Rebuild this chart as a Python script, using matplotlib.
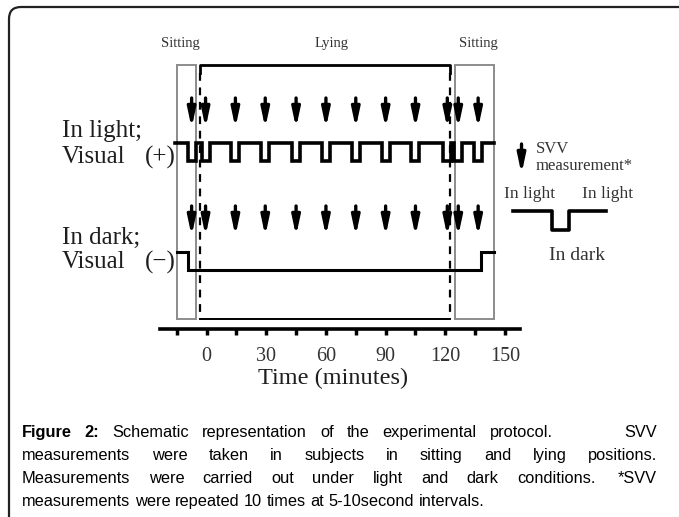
import matplotlib
matplotlib.use('Agg')
import matplotlib.pyplot as plt
from matplotlib.patches import Rectangle, FancyBboxPatch

# protocol timing, minutes
sit1 = (-15.1, -5.5)
lying = (-3.3, 122.6)
sit2 = (125.1, 144.5)
svv_times = [-7.5, -0.5, 14.5, 29.5, 45, 60, 75, 90, 105, 121, 126.5, 136.5]
dark_span = (-9.5, 138)
wave_span = (-16, 144.5)
ticks = list(range(-15, 151, 15))
tick_labels = ['' if (t < 0 or t % 30) else str(t) for t in ticks]

# caption lines; '|' marks the wide gap
caption = [
    "Figure 2: Schematic representation of the experimental protocol. | SVV",
    "measurements were taken in subjects in sitting and lying positions.",
    "Measurements were carried out under light and dark conditions. | *SVV",
    "measurements were repeated 10 times at 5-10second intervals.",
]
bold_words = {"Figure", "2:"}

W, H = 679, 517
serif = 'Liberation Serif'
ink = '#1e1e1e'

fig = plt.figure(figsize=(W / 100, H / 100), dpi=100)
ax = fig.add_axes([160 / W, 1 - 329 / H, 360 / W, 329 / H])
px = 1.9897  # pixels per minute
x0 = (160 - 206.55) / px
ax.set_xlim(x0, x0 + 360 / px)
ax.set_ylim(329, 0)
ax.patch.set_visible(False)
for s in ['top', 'left', 'right']:
    ax.spines[s].set_visible(False)
ax.spines['bottom'].set_linewidth(2.6)
ax.set_yticks([])
ax.set_xticks(ticks)
ax.set_xticklabels(tick_labels, fontfamily=serif, fontsize=14.5, color='#333')
ax.tick_params(axis='x', direction='out', length=4, width=2.5, pad=9)

# sitting boxes (grey) and lying bracket
for a, b in (sit1, sit2):
    ax.add_patch(Rectangle((a, 65), b - a, 254, fill=False,
                           ec='#8c8c8c', lw=1.4))
la, lb = lying
ax.plot([la, la, lb, lb], [73, 65, 65, 73], color='k', lw=2)
for xx in (la, lb):
    ax.plot([xx, xx], [73, 319], color='k', lw=1.6, ls=(0, (3.5, 3)))
ax.plot([la, lb], [319, 319], color='k', lw=1.4)


def step_wave(dips, hi, lo):
    xs, ys = [wave_span[0]], [hi]
    for a, b in dips:
        xs += [a, a, b, b]
        ys += [hi, lo, lo, hi]
    xs.append(wave_span[1])
    ys.append(hi)
    return xs, ys


# light condition: brief dark for each measurement
xs, ys = step_wave([(t - 2, t + 2) for t in svv_times], 143, 161)
ax.plot(xs, ys, color='k', lw=2.6, solid_joinstyle='miter')
# dark condition
xs, ys = step_wave([dark_span], 252, 270)
xs[0] = sit1[0]
ax.plot(xs, ys, color='k', lw=2.2, solid_joinstyle='miter')

arrow = dict(arrowstyle='-|>,head_length=0.8,head_width=0.17', lw=2.4,
             color='k', shrinkA=0, shrinkB=0, mutation_scale=14)
for t in svv_times:
    for top, tip in ((98, 128), (206, 236)):
        ax.annotate('', xy=(t, tip), xytext=(t, top), arrowprops=arrow)

# phase labels
for t, lab in ((-13.3, 'Sitting'), (62.9, 'Lying'), (136.4, 'Sitting')):
    ax.text(t, 43, lab, ha='center', va='center', fontfamily=serif,
            fontsize=10.5, color='#333')

# legend on the right
ax.annotate('', xy=(158.3, 174), xytext=(158.3, 144), arrowprops=arrow,
            annotation_clip=False)
ax.text(165.5, 149, 'SVV', fontfamily=serif, fontsize=12, color='#333',
        va='center', ha='left')
ax.text(165.5, 166, 'measurement*', fontfamily=serif, fontsize=12,
        color='#333', va='center', ha='left')
ax.plot([153.9, 173.5, 173.5, 182.4, 182.4, 200.7],
        [211, 211, 230, 230, 211, 211], color='k', lw=2.6, clip_on=False)
ax.text(162.3, 194, 'In light', fontfamily=serif, fontsize=12.5,
        color='#333', ha='center', va='center')
ax.text(201.4, 194, 'In light', fontfamily=serif, fontsize=12.5,
        color='#333', ha='center', va='center')
ax.text(186.4, 255, 'In dark', fontfamily=serif, fontsize=14,
        color='#333', ha='center', va='center')


# row labels
def ftext(x, y, s, **kw):
    fig.text(x / W, 1 - y / H, s, fontfamily=serif, color=ink, va='center', **kw)


ftext(62, 131, 'In light;', fontsize=18, ha='left')
ftext(62, 157, 'Visual', fontsize=18, ha='left')
ftext(176, 157, '(+)', fontsize=18, ha='right')
ftext(62, 238, 'In dark;', fontsize=18, ha='left')
ftext(62, 262, 'Visual', fontsize=18, ha='left')
ftext(176, 262, '(\u2212)', fontsize=18, ha='right')
ftext(333, 378, 'Time (minutes)', fontsize=17.5, ha='center')

# caption, justified by hand
renderer = fig.canvas.get_renderer()
cx0, cx1, csize = 22, 657, 11.8
space = csize * 0.278 * 100 / 72
gap_weights = [(1.0, 8.0), (1.0, 1.0), (1.0, 1.3), None]
for i, line in enumerate(caption):
    y = [437, 460, 483, 506][i]
    toks, after_bar = [], False
    for w in line.split():
        if w == '|':
            after_bar = True
            continue
        toks.append((w, after_bar))
        after_bar = False
    texts = [fig.text(0, 1 - y / H, w, fontfamily='Liberation Sans',
                      fontsize=csize, va='baseline', ha='left', color='k',
                      fontweight='bold' if (i == 0 and w in bold_words) else 'normal')
             for w, _ in toks]
    widths = [t.get_window_extent(renderer).width for t in texts]
    gaps = [space] * (len(toks) - 1)
    if gap_weights[i] is not None:
        wr, ww = gap_weights[i]
        wts = [ww if toks[k + 1][1] else wr for k in range(len(gaps))]
        slack = cx1 - cx0 - sum(widths) - sum(gaps)
        gaps = [g + slack * wt / sum(wts) for g, wt in zip(gaps, wts)]
    x = cx0
    for k, (t, w) in enumerate(zip(texts, widths)):
        t.set_x(x / W)
        if k < len(gaps):
            x += w + gaps[k]

frame = FancyBboxPatch((9, -30), 700, H - 7 + 30,
                       boxstyle='round,pad=0,rounding_size=12',
                       transform=None, fill=False, ec='#222', lw=1.6)
fig.add_artist(frame)

fig.savefig('out.png', dpi=100)
